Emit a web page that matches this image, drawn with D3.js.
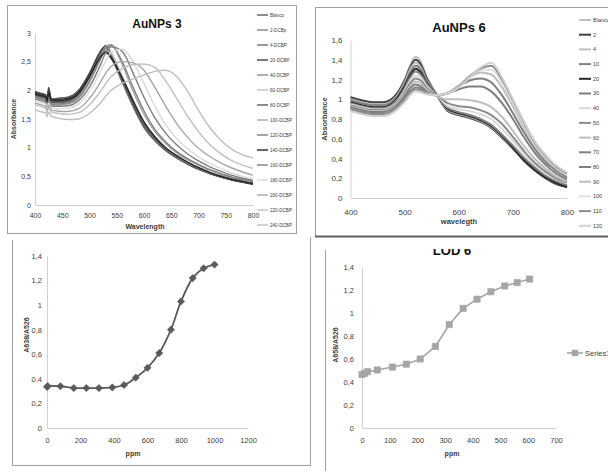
<!DOCTYPE html>
<html>
<head>
<meta charset="utf-8">
<script src="https://cdn.jsdelivr.net/npm/d3@7"></script>
<style>
    body { margin: 0; background: #fff; }
    svg text { font-family: "Liberation Sans", Arial, sans-serif; }
</style>
</head>
<body>
<svg id="fig" width="608" height="471"></svg>
<script>
// ---- AuNPs 3 spectra ----
const wl3 = [400, 410, 420, 422, 425, 430, 440, 460, 480, 500, 520, 530, 540, 560, 580, 600, 620, 640, 660, 680, 700, 720, 740, 760, 780, 800];
const names3 = ['Blanco', '2-DCBp', '4-DCBP', '20-DCBP', '40-DCBP', '60-DCBP', '80-DCBP', '100-DCBP',
    '120-DCBP', '140-DCBP', '160-DCBP', '180-DCBP', '200-DCBP', '220-DCBP', '240-DCBP'];
const abs3 = [
    [1.98, 1.95, 1.92, 1.84, 2.00, 1.85, 1.86, 1.88, 2.00, 2.30, 2.66, 2.74, 2.58, 2.15, 1.72, 1.35, 1.12, 0.95, 0.82, 0.72, 0.63, 0.56, 0.50, 0.45, 0.41, 0.38],
    [1.95, 1.92, 1.89, 1.80, 1.95, 1.82, 1.82, 1.84, 1.96, 2.26, 2.62, 2.70, 2.56, 2.14, 1.72, 1.36, 1.12, 0.95, 0.82, 0.72, 0.63, 0.55, 0.49, 0.44, 0.40, 0.37],
    [1.93, 1.90, 1.87, 1.79, 1.92, 1.80, 1.80, 1.82, 1.94, 2.25, 2.63, 2.75, 2.62, 2.18, 1.74, 1.37, 1.13, 0.95, 0.82, 0.71, 0.62, 0.55, 0.49, 0.44, 0.40, 0.37],
    [1.97, 1.94, 1.90, 1.82, 2.05, 1.84, 1.84, 1.86, 1.98, 2.29, 2.68, 2.78, 2.64, 2.20, 1.76, 1.39, 1.14, 0.96, 0.83, 0.72, 0.63, 0.55, 0.49, 0.44, 0.40, 0.36],
    [1.90, 1.88, 1.85, 1.77, 1.90, 1.78, 1.78, 1.80, 1.92, 2.22, 2.60, 2.74, 2.64, 2.22, 1.78, 1.40, 1.15, 0.97, 0.84, 0.73, 0.64, 0.56, 0.50, 0.45, 0.41, 0.38],
    [1.88, 1.85, 1.82, 1.74, 1.86, 1.75, 1.75, 1.77, 1.88, 2.18, 2.55, 2.70, 2.64, 2.25, 1.82, 1.44, 1.18, 0.99, 0.85, 0.74, 0.65, 0.57, 0.51, 0.46, 0.42, 0.38],
    [1.92, 1.89, 1.86, 1.78, 1.90, 1.79, 1.79, 1.81, 1.93, 2.23, 2.58, 2.68, 2.58, 2.20, 1.78, 1.41, 1.16, 0.98, 0.85, 0.74, 0.65, 0.57, 0.51, 0.46, 0.42, 0.38],
    [1.87, 1.84, 1.81, 1.73, 1.85, 1.74, 1.74, 1.76, 1.86, 2.14, 2.54, 2.76, 2.80, 2.45, 1.98, 1.58, 1.28, 1.07, 0.91, 0.79, 0.69, 0.61, 0.54, 0.48, 0.44, 0.40],
    [1.89, 1.86, 1.83, 1.75, 1.88, 1.76, 1.76, 1.78, 1.88, 2.16, 2.55, 2.74, 2.78, 2.50, 2.05, 1.64, 1.32, 1.10, 0.93, 0.81, 0.71, 0.62, 0.55, 0.49, 0.45, 0.41],
    [1.94, 1.91, 1.88, 1.80, 1.96, 1.82, 1.82, 1.84, 1.95, 2.24, 2.58, 2.66, 2.56, 2.22, 1.82, 1.45, 1.19, 1.00, 0.86, 0.75, 0.65, 0.57, 0.50, 0.45, 0.41, 0.37],
    [1.85, 1.82, 1.79, 1.71, 1.82, 1.72, 1.72, 1.73, 1.82, 2.06, 2.44, 2.66, 2.76, 2.68, 2.30, 1.88, 1.52, 1.25, 1.05, 0.89, 0.77, 0.67, 0.59, 0.52, 0.47, 0.43],
    [1.82, 1.79, 1.76, 1.68, 1.78, 1.69, 1.68, 1.69, 1.76, 1.98, 2.32, 2.52, 2.66, 2.72, 2.50, 2.12, 1.72, 1.40, 1.16, 0.98, 0.84, 0.73, 0.64, 0.56, 0.50, 0.46],
    [1.78, 1.75, 1.72, 1.64, 1.74, 1.65, 1.64, 1.63, 1.68, 1.86, 2.14, 2.30, 2.42, 2.50, 2.48, 2.35, 2.05, 1.72, 1.42, 1.18, 0.99, 0.85, 0.74, 0.65, 0.58, 0.52],
    [1.75, 1.72, 1.69, 1.61, 1.70, 1.62, 1.60, 1.58, 1.61, 1.75, 1.98, 2.12, 2.24, 2.38, 2.45, 2.46, 2.40, 2.16, 1.86, 1.55, 1.28, 1.06, 0.90, 0.78, 0.70, 0.64],
    [1.66, 1.63, 1.60, 1.54, 1.62, 1.55, 1.52, 1.49, 1.50, 1.60, 1.78, 1.90, 2.00, 2.12, 2.20, 2.27, 2.33, 2.35, 2.24, 1.98, 1.65, 1.36, 1.14, 0.98, 0.88, 0.82]
];
const yTicks3 = [0, 0.5, 1, 1.5, 2, 2.5, 3];
const xTicks3 = [400, 450, 500, 550, 600, 650, 700, 750, 800];

// ---- AuNPs 6 spectra ----
const wl6 = [400, 420, 440, 460, 480, 500, 510, 520, 530, 540, 560, 580, 600, 620, 640, 660, 680, 700, 720, 740, 760, 780, 800];
const names6 = ['Blanco', '2', '4', '10', '20', '30', '40', '50', '60', '70', '80', '90', '100', '110', '120'];
const abs6 = [
    [1.01, 0.98, 0.96, 0.96, 1.02, 1.20, 1.34, 1.43, 1.38, 1.24, 1.04, 0.89, 0.85, 0.82, 0.78, 0.72, 0.62, 0.51, 0.39, 0.29, 0.21, 0.15, 0.12],
    [1.02, 0.99, 0.97, 0.97, 1.02, 1.19, 1.32, 1.40, 1.35, 1.22, 1.04, 0.88, 0.84, 0.81, 0.77, 0.71, 0.61, 0.50, 0.38, 0.28, 0.20, 0.14, 0.11],
    [1.00, 0.97, 0.95, 0.95, 1.00, 1.17, 1.30, 1.37, 1.32, 1.20, 1.04, 0.89, 0.85, 0.82, 0.78, 0.72, 0.62, 0.51, 0.40, 0.29, 0.21, 0.15, 0.12],
    [0.99, 0.96, 0.94, 0.94, 0.99, 1.15, 1.27, 1.34, 1.30, 1.19, 1.04, 0.90, 0.86, 0.83, 0.79, 0.73, 0.63, 0.52, 0.40, 0.30, 0.22, 0.16, 0.12],
    [0.97, 0.94, 0.92, 0.92, 0.97, 1.13, 1.24, 1.31, 1.27, 1.17, 1.04, 0.90, 0.86, 0.83, 0.79, 0.73, 0.63, 0.51, 0.39, 0.29, 0.21, 0.15, 0.11],
    [0.96, 0.93, 0.91, 0.91, 0.96, 1.11, 1.22, 1.28, 1.25, 1.16, 1.04, 0.91, 0.87, 0.84, 0.80, 0.74, 0.64, 0.53, 0.41, 0.31, 0.23, 0.17, 0.13],
    [0.95, 0.92, 0.90, 0.90, 0.94, 1.09, 1.19, 1.24, 1.22, 1.14, 1.04, 0.93, 0.90, 0.88, 0.85, 0.80, 0.70, 0.58, 0.45, 0.34, 0.25, 0.19, 0.15],
    [0.94, 0.91, 0.89, 0.89, 0.93, 1.07, 1.16, 1.21, 1.19, 1.12, 1.04, 0.96, 0.93, 0.92, 0.89, 0.84, 0.75, 0.62, 0.48, 0.36, 0.27, 0.20, 0.16],
    [0.93, 0.90, 0.88, 0.88, 0.92, 1.05, 1.13, 1.18, 1.16, 1.10, 1.03, 1.00, 1.00, 0.99, 0.97, 0.92, 0.82, 0.68, 0.53, 0.40, 0.30, 0.22, 0.17],
    [0.92, 0.89, 0.87, 0.87, 0.91, 1.03, 1.11, 1.15, 1.13, 1.08, 1.04, 1.06, 1.10, 1.13, 1.13, 1.08, 0.96, 0.80, 0.62, 0.46, 0.34, 0.25, 0.19],
    [0.91, 0.88, 0.86, 0.86, 0.90, 1.01, 1.08, 1.12, 1.11, 1.07, 1.04, 1.07, 1.13, 1.19, 1.21, 1.17, 1.04, 0.86, 0.67, 0.50, 0.37, 0.28, 0.21],
    [0.90, 0.87, 0.85, 0.85, 0.89, 0.99, 1.06, 1.10, 1.09, 1.06, 1.04, 1.07, 1.14, 1.22, 1.27, 1.25, 1.12, 0.93, 0.72, 0.54, 0.40, 0.30, 0.23],
    [0.89, 0.86, 0.84, 0.84, 0.88, 0.98, 1.05, 1.09, 1.08, 1.06, 1.04, 1.07, 1.14, 1.24, 1.30, 1.30, 1.17, 0.97, 0.75, 0.56, 0.42, 0.31, 0.24],
    [0.90, 0.87, 0.85, 0.85, 0.89, 0.99, 1.06, 1.10, 1.09, 1.06, 1.04, 1.06, 1.13, 1.23, 1.31, 1.34, 1.20, 0.99, 0.77, 0.57, 0.43, 0.32, 0.25],
    [0.88, 0.85, 0.83, 0.83, 0.87, 0.97, 1.04, 1.08, 1.07, 1.05, 1.04, 1.06, 1.12, 1.22, 1.32, 1.37, 1.22, 1.00, 0.78, 0.58, 0.44, 0.33, 0.26]
];
const yTicks6 = [0, 0.2, 0.4, 0.6, 0.8, 1, 1.2, 1.4, 1.6];
const xTicks6 = [400, 500, 600, 700, 800];

// ---- calibration curves ----
const ppm3 = [0, 5, 80, 160, 235, 310, 390, 460, 530, 600, 670, 740, 800, 870, 935, 1000];
const ratio3 = [0.335, 0.34, 0.34, 0.325, 0.325, 0.325, 0.33, 0.35, 0.41, 0.49, 0.61, 0.80, 1.03, 1.22, 1.30, 1.33];
const xTicksCal3 = [0, 200, 400, 600, 800, 1000, 1200];
const ppm6 = [0, 10, 20, 55, 110, 160, 210, 265, 315, 365, 415, 465, 515, 560, 605];
const ratio6 = [0.465, 0.475, 0.49, 0.505, 0.53, 0.555, 0.60, 0.71, 0.90, 1.04, 1.12, 1.185, 1.235, 1.265, 1.295];
const xTicksCal6 = [0, 100, 200, 300, 400, 500, 600, 700];
const yTicksCal = [0, 0.2, 0.4, 0.6, 0.8, 1, 1.2, 1.4];

// line colours (Excel greyscale)
const colors3 = ['#595959', '#808080', '#6e6e6e', '#404040', '#8c8c8c', '#bfbfbf', '#595959', '#a6a6a6',
    '#7f7f7f', '#262626', '#7f7f7f', '#d9d9d9', '#a6a6a6', '#bfbfbf', '#bfbfbf'];
const colors6 = ['#bfbfbf', '#404040', '#bfbfbf', '#7f7f7f', '#262626', '#7f7f7f', '#d9d9d9', '#8c8c8c',
    '#bfbfbf', '#7f7f7f', '#7f7f7f', '#bfbfbf', '#e0e0e0', '#8c8c8c', '#d0d0d0'];

const commaFmt = d => String(d).replace('.', ',');
const svg = d3.select('#fig');

function vline(x, y1, y2, color, w) {
    svg.append('line').attr('x1', x).attr('x2', x).attr('y1', y1).attr('y2', y2)
        .attr('stroke', color).attr('stroke-width', w || 1);
}
function hline(y, x1, x2, color, w) {
    svg.append('line').attr('x1', x1).attr('x2', x2).attr('y1', y).attr('y2', y)
        .attr('stroke', color).attr('stroke-width', w || 1);
}

// shared axis drawing, Excel style: no tick marks, pale axis lines
function drawAxes(g, x, y, o) {
    const yAx = g.append('g').attr('transform', `translate(${x.range()[0]},0)`)
        .call(d3.axisLeft(y).tickValues(o.yTicks).tickFormat(commaFmt)
            .tickSize(0).tickSizeOuter(0).tickPadding(o.yPad));
    const xAx = g.append('g').attr('transform', `translate(0,${y.range()[0]})`)
        .call(d3.axisBottom(x).tickValues(o.xTicks).tickFormat(d3.format('d'))
            .tickSize(0).tickSizeOuter(0).tickPadding(o.xPad));
    [yAx, xAx].forEach(ax => {
        ax.select('.domain').attr('stroke', '#d0d0d0');
        ax.selectAll('text').attr('font-family', o.tickFont).attr('font-size', o.tickSize).attr('fill', '#404040');
    });
}

function axisTitles(g, o) {
    g.append('text').attr('x', o.xLab[0]).attr('y', o.xLab[1]).attr('text-anchor', 'middle')
        .attr('font-size', o.labSize).attr('font-weight', 'bold').attr('fill', '#404040').text(o.xTitle);
    g.append('text').attr('transform', `translate(${o.yLab[0]},${o.yLab[1]}) rotate(-90)`)
        .attr('text-anchor', 'middle').attr('font-size', o.labSize).attr('font-weight', 'bold')
        .attr('fill', '#404040').text(o.yTitle);
}

function drawSpectra(o) {
    const g = svg.append('g');
    const x = d3.scaleLinear().domain([400, 800]).range([o.left, o.right]);
    const y = d3.scaleLinear().domain([0, o.yMax]).range([o.bottom, o.top]);
    drawAxes(g, x, y, o);

    const line = d3.line()
        .x((d, i) => x(o.wl[i]))
        .y(d => y(d))
        .curve(d3.curveMonotoneX);

    g.selectAll('path.spec')
        .data(o.values)
        .join('path')
        .attr('class', 'spec')
        .attr('d', line)
        .attr('fill', 'none')
        .attr('stroke', (d, i) => o.colors[i])
        .attr('stroke-width', o.lw);

    // legend column on the right
    const items = o.names.map((n, i) => ({ name: n, color: o.colors[i], i }));
    const leg = g.selectAll('g.leg').data(items).join('g')
        .attr('transform', d => `translate(0,${o.legY + d.i * o.legStep})`);
    leg.append('line')
        .attr('x1', o.legX).attr('x2', o.legX + o.legLen)
        .attr('stroke', d => d.color).attr('stroke-width', o.lw);
    leg.append('text')
        .attr('x', o.legX + o.legLen + 2).attr('dy', '0.35em')
        .attr('font-family', o.legFont).attr('font-size', o.legSize).attr('fill', '#404040')
        .text(d => d.name);

    g.append('text').attr('x', o.title[0]).attr('y', o.title[1]).attr('text-anchor', 'middle')
        .attr('font-size', o.titleSize).attr('font-weight', 'bold').attr('fill', '#111').text(o.titleText);
    axisTitles(g, o);
}

function drawCalib(o) {
    const g = svg.append('g');
    if (o.clip) {
        svg.append('clipPath').attr('id', o.clip.id).append('rect')
            .attr('x', o.clip.x).attr('y', o.clip.y).attr('width', o.clip.w).attr('height', o.clip.h);
        g.attr('clip-path', `url(#${o.clip.id})`);
    }
    const x = d3.scaleLinear().domain([0, o.xMax]).range([o.left, o.right]);
    const y = d3.scaleLinear().domain([0, 1.4]).range([o.bottom, o.top]);
    drawAxes(g, x, y, o);

    const pts = o.xs.map((v, i) => ({ x: v, y: o.ys[i] }));
    const line = d3.line().x(d => x(d.x)).y(d => y(d.y)).curve(o.curve);
    g.append('path').datum(pts).attr('d', line)
        .attr('fill', 'none').attr('stroke', o.color).attr('stroke-width', o.lw);

    const sym = d3.symbol().type(d3.symbolSquare).size(o.markSize);
    g.selectAll('path.mk').data(pts).join('path')
        .attr('class', 'mk')
        .attr('d', sym)
        .attr('transform', d => `translate(${x(d.x)},${y(d.y)}) rotate(${o.markRot})`)
        .attr('fill', o.color).attr('stroke', o.color).attr('stroke-width', 0.6);

    if (o.titleText) {
        g.append('text').attr('x', o.title[0]).attr('y', o.title[1]).attr('text-anchor', 'middle')
            .attr('font-size', o.titleSize).attr('font-weight', 'bold').attr('fill', '#111').text(o.titleText);
    }
    if (o.legend) {
        const L = o.legend;
        g.append('line').attr('x1', L.x).attr('x2', L.x + 16).attr('y1', L.y).attr('y2', L.y)
            .attr('stroke', o.color).attr('stroke-width', o.lw);
        g.append('path').attr('d', sym).attr('transform', `translate(${L.x + 8},${L.y})`)
            .attr('fill', o.color);
        g.append('text').attr('x', L.x + 18).attr('y', L.y).attr('dy', '0.35em')
            .attr('font-size', 7.5).attr('fill', '#404040').text(L.text);
    }
    axisTitles(g, o);
}

// panel frames
svg.append('rect').attr('x', 7.5).attr('y', 5.5).attr('width', 289).attr('height', 228)
    .attr('fill', 'none').attr('stroke', '#a0a0a0');
vline(315.5, 7, 237, '#a0a0a0');
hline(7.5, 315, 608, '#a0a0a0');
hline(236.5, 315, 608, '#606060', 2);
vline(12.5, 240, 465, '#a0a0a0');
hline(465.5, 12, 311, '#a0a0a0');
vline(310.5, 237, 466, '#a0a0a0');
vline(325.5, 250, 471, '#a0a0a0');

drawSpectra({
    wl: wl3, values: abs3, names: names3, colors: colors3, lw: 1.4,
    left: 35, right: 253, top: 33, bottom: 205, yMax: 3,
    yTicks: yTicks3, xTicks: xTicks3, yPad: 4, xPad: 8,
    tickFont: '"Liberation Sans", Arial, sans-serif', tickSize: 7,
    legX: 257, legY: 15, legStep: 15, legLen: 11,
    legFont: '"Liberation Serif", serif', legSize: 4.6,
    title: [157, 28], titleSize: 12, titleText: 'AuNPs 3',
    xLab: [145, 229], yLab: [16, 119], labSize: 7,
    xTitle: 'Wavelength', yTitle: 'Absorbance'
});

drawSpectra({
    wl: wl6, values: abs6, names: names6, colors: colors6, lw: 2,
    left: 350.5, right: 567, top: 40, bottom: 198, yMax: 1.6,
    yTicks: yTicks6, xTicks: xTicks6, yPad: 8, xPad: 11,
    tickFont: '"Liberation Sans", Arial, sans-serif', tickSize: 8,
    legX: 579, legY: 20, legStep: 14.7, legLen: 12,
    legFont: '"Liberation Sans", Arial, sans-serif', legSize: 5.5,
    title: [459, 32], titleSize: 13, titleText: 'AuNPs 6',
    xLab: [459, 224], yLab: [327, 119], labSize: 7.5,
    xTitle: 'wavelegth', yTitle: 'Absorbance'
});

drawCalib({
    xs: ppm3, ys: ratio3, xMax: 1200, color: '#5a5a5a', lw: 1.8,
    left: 47, right: 248, top: 256, bottom: 428,
    yTicks: yTicksCal, xTicks: xTicksCal3, yPad: 5, xPad: 10,
    tickFont: '"Liberation Serif", serif', tickSize: 7.5,
    curve: d3.curveCatmullRom, markSize: 26, markRot: 45,
    xLab: [133, 456], yLab: [29, 335], labSize: 7,
    xTitle: 'ppm', yTitle: 'A638/A526'
});

drawCalib({
    xs: ppm6, ys: ratio6, xMax: 700, color: '#a6a6a6', lw: 1.6,
    left: 362, right: 556, top: 267, bottom: 428,
    yTicks: yTicksCal, xTicks: xTicksCal6, yPad: 8, xPad: 10,
    tickFont: '"Liberation Serif", serif', tickSize: 7.5,
    curve: d3.curveLinear, markSize: 40, markRot: 0,
    clip: { id: 'clip4', x: 326, y: 249, w: 282, h: 222 },
    title: [452, 255], titleSize: 13, titleText: 'LOD 6',
    legend: { x: 567, y: 353, text: 'Series1' },
    xLab: [452, 456], yLab: [338, 345], labSize: 7,
    xTitle: 'ppm', yTitle: 'A658/A526'
});
</script>
</body>
</html>
